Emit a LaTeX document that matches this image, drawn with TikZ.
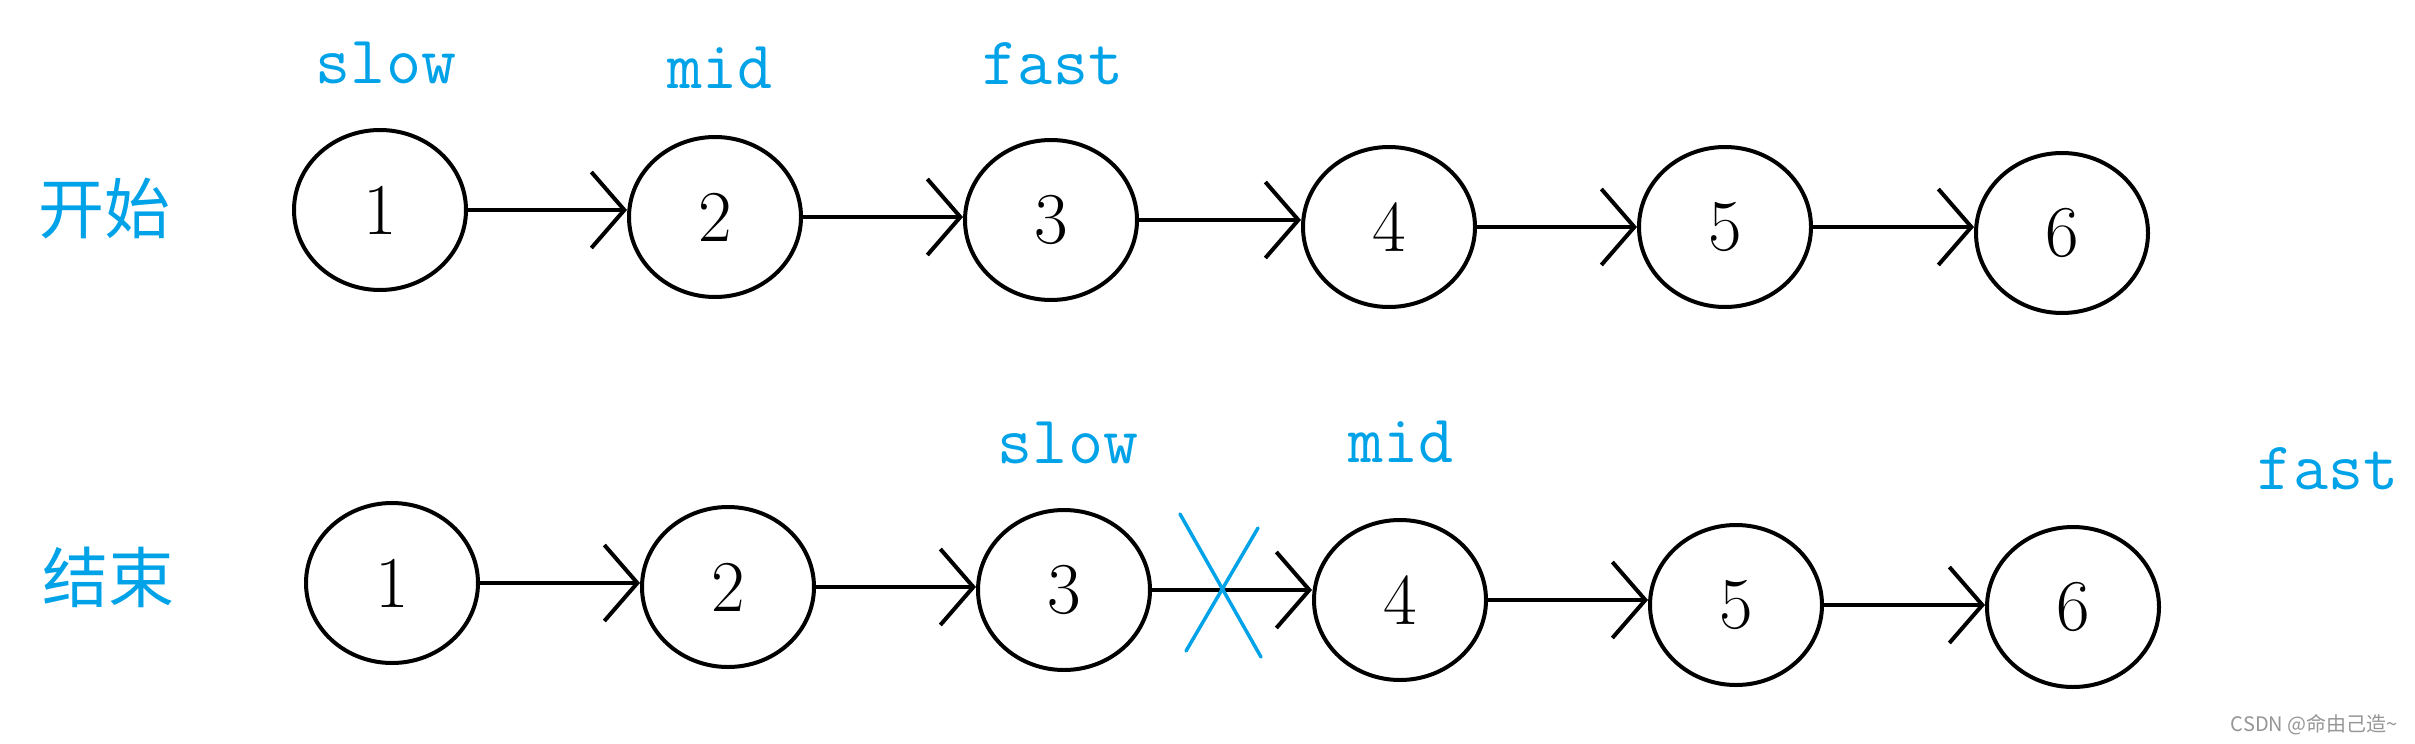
\documentclass[tikz,border=0pt]{standalone}
\usepackage{fontspec}
\newfontfamily\cjk{Noto Sans CJK SC}
\usetikzlibrary{shapes.geometric,arrows.meta}
\definecolor{lblue}{RGB}{0,162,232}
\definecolor{wmgray}{RGB}{150,150,150}
\begin{document}
\begin{tikzpicture}[x=1pt,y=-1pt,
  nd/.style={ellipse, draw, line width=4pt, minimum width=172pt, minimum height=160pt, inner sep=0pt, font=\fontsize{73}{73}\selectfont},
  lnk/.style={line width=4pt, -{Straight Barb[length=33pt,width=76pt]}},
  ptr/.style={text=lblue, font=\ttfamily\fontsize{68}{68}\selectfont, anchor=base, inner sep=0pt},
  zh/.style={text=lblue, font=\cjk\fontsize{66}{66}\selectfont, anchor=base, inner sep=0pt},
  xmark/.style={draw=lblue, line width=3.5pt, line cap=round},
]
\fill[white] (0,0) rectangle (2415,744);
\useasboundingbox (0,0) rectangle (2415,744);

% top row
\node[zh] (start) at (104,233) {开始};
\node[nd] (t1) at (380,210) {1};
\node[nd] (t2) at (715,217) {2};
\node[nd] (t3) at (1051,220) {3};
\node[nd] (t4) at (1389,227) {4};
\node[nd] (t5) at (1725,227) {5};
\node[nd] (t6) at (2062,233) {6};
\node[ptr] (tslow) at (386,83) {slow};
\node[ptr] (tmid) at (720,88) {mid};
\node[ptr] (tfast) at (1053,84) {fast};
\foreach \a/\b in {t1/t2,t2/t3,t3/t4,t4/t5,t5/t6}
  \draw[lnk] (\a.east) -- (\a.east -| \b.west);

% bottom row
\node[zh] (end) at (108,602) {结束};
\node[nd] (b1) at (392,583) {1};
\node[nd] (b2) at (728,587) {2};
\node[nd] (b3) at (1064,590) {3};
\node[nd] (b4) at (1400,600) {4};
\node[nd] (b5) at (1736,605) {5};
\node[nd] (b6) at (2073,607) {6};
\node[ptr] (bslow) at (1068,463) {slow};
\node[ptr] (bmid) at (1401,462) {mid};
\node[ptr] (bfast) at (2328,489) {fast};
\foreach \a/\b in {b1/b2,b2/b3,b3/b4,b4/b5,b5/b6}
  \draw[lnk] (\a.east) -- (\a.east -| \b.west);

% cross on the cut link
\coordinate (xa1) at (1180,514);
\coordinate (xa2) at (1261,657);
\coordinate (xb1) at (1258,528);
\coordinate (xb2) at (1186,651);
\draw[xmark] (xa1) -- (xa2);
\draw[xmark] (xb1) -- (xb2);

% watermark
\node[anchor=east, text=wmgray, inner sep=0pt, font=\cjk\fontsize{20}{20}\selectfont] (wm) at (2398,725) {CSDN @命由己造\textasciitilde};
\end{tikzpicture}
\end{document}
